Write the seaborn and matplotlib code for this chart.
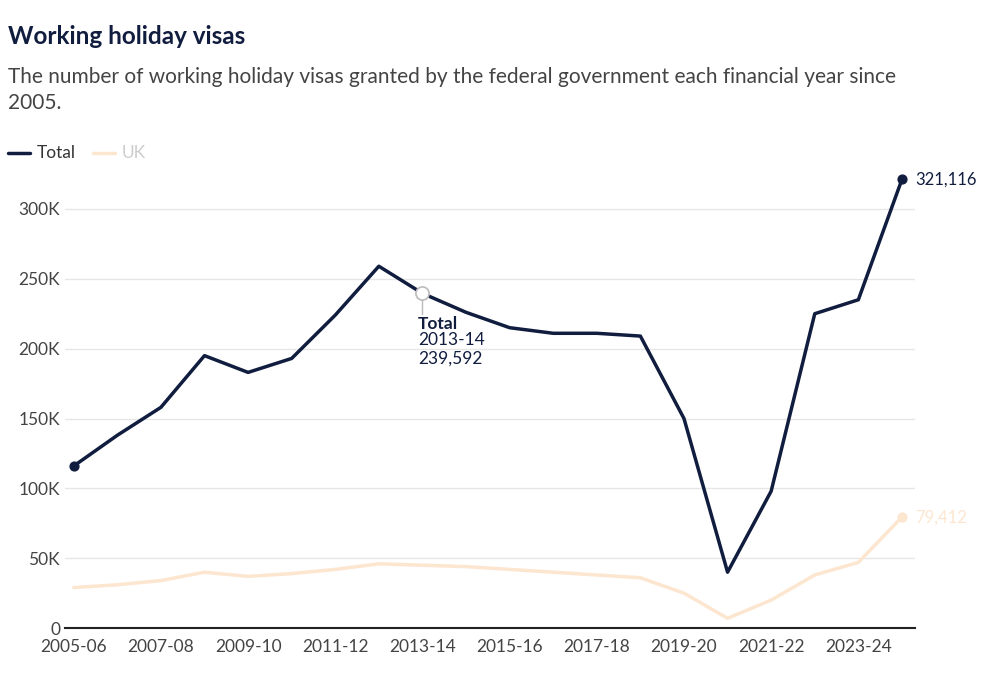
import numpy as np
import pandas as pd
import matplotlib.pyplot as plt
import seaborn as sns
from matplotlib.ticker import FuncFormatter

years = ['2005-06', '2006-07', '2007-08', '2008-09', '2009-10', '2010-11', '2011-12',
         '2012-13', '2013-14', '2014-15', '2015-16', '2016-17', '2017-18', '2018-19',
         '2019-20', '2020-21', '2021-22', '2022-23', '2023-24', '2024-25']
total = [116000, 138000, 158000, 195000, 183000, 193000, 224000, 259000, 239592, 226000,
         215000, 211000, 211000, 209000, 150000, 40000, 98000, 225000, 235000, 321116]
uk = [29000, 31000, 34000, 40000, 37000, 39000, 42000, 46000, 45000, 44000,
      42000, 40000, 38000, 36000, 25000, 7000, 20000, 38000, 47000, 79412]

navy = '#111d3f'
peach = '#fde6cf'

df = pd.DataFrame({'x': np.arange(len(years)), 'Total': total, 'UK': uk})

sns.set_style('white')
plt.rcParams['font.family'] = ['Lato', 'DejaVu Sans']

fig = plt.figure(figsize=(10, 6.79), dpi=100)
ax = fig.add_axes([0.065, 0.075, 0.85, 0.679])

sns.lineplot(data=df, x='x', y='UK', color=peach, lw=2.5, ax=ax)
sns.lineplot(data=df, x='x', y='Total', color=navy, lw=2.5, ax=ax)

last = len(years) - 1
ax.scatter([0, last], [total[0], total[-1]], color=navy, s=40, zorder=5)
ax.scatter([last], [uk[-1]], color=peach, s=40, zorder=5)
ax.text(last + 0.3, total[-1], f'{total[-1]:,}', color=navy, fontsize=12, va='center')
ax.text(last + 0.3, uk[-1], f'{uk[-1]:,}', color=peach, fontsize=12, va='center')

# hover annotation
ax.scatter([8], [total[8]], s=90, facecolor='white', edgecolor='#bbbbbb', lw=1.2, zorder=6)
ax.plot([8, 8], [total[8] - 5000, total[8] - 15000], color='#bbbbbb', lw=1)
ax.text(7.9, total[8] - 16000, 'Total', color=navy, fontsize=12.5, fontweight='bold', va='top')
ax.text(7.9, total[8] - 28000, f'{years[8]}\n{total[8]:,}', color=navy, fontsize=12.5, va='top',
        linespacing=1.2)

ax.set_xlim(-0.2, last + 0.3)
ax.set_ylim(0, 330000)
ax.set_yticks(range(0, 300001, 50000))
ax.yaxis.set_major_formatter(FuncFormatter(lambda v, p: '0' if v == 0 else f'{int(v/1000)}K'))
ax.set_xticks(range(0, last, 2))
ax.set_xticklabels(years[0:last:2])
ax.tick_params(axis='both', labelsize=12.5, colors='#444444', length=0)
ax.tick_params(axis='x', pad=8)
ax.grid(axis='y', color='#e6e6e6', lw=1)
ax.set_xlabel('')
ax.set_ylabel('')
for s in ['top', 'right', 'left']:
    ax.spines[s].set_visible(False)
ax.spines['bottom'].set_color('#222222')
ax.spines['bottom'].set_linewidth(1.5)

fig.text(0.008, 0.935, 'Working holiday visas', fontsize=17.5, fontweight='bold', color=navy)
fig.text(0.008, 0.84, 'The number of working holiday visas granted by the federal government each financial year since\n2005.',
         fontsize=15, color='#444444', linespacing=1.35)
fig.lines.append(plt.Line2D([0.008, 0.03], [0.775, 0.775], color=navy, lw=2.5, transform=fig.transFigure))
fig.text(0.037, 0.775, 'Total', fontsize=12.5, color='#333333', va='center')
fig.lines.append(plt.Line2D([0.093, 0.115], [0.775, 0.775], color=peach, lw=2.5, transform=fig.transFigure))
fig.text(0.122, 0.775, 'UK', fontsize=12.5, color='#cccccc', va='center')

fig.savefig('out.png', dpi=100)
